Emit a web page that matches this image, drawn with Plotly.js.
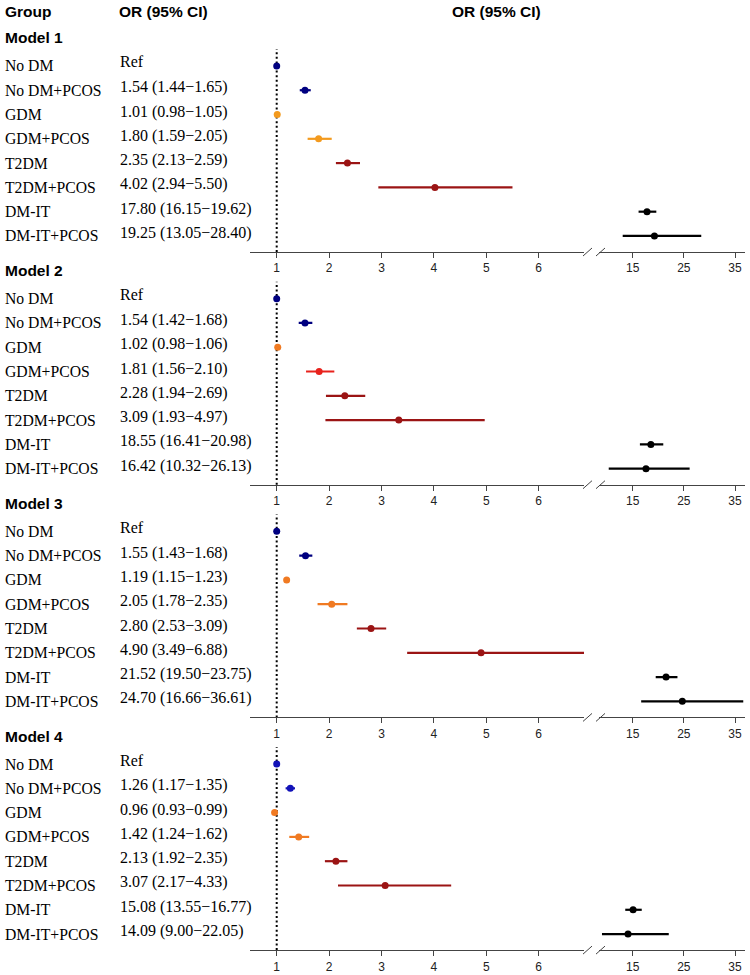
<!DOCTYPE html>
<html>
<head>
<meta charset="utf-8">
<script src="https://cdn.plot.ly/plotly-3.0.1.min.js"></script>
<style>html,body{margin:0;padding:0;background:#fff;}#chart{width:750px;height:975px;}</style>
</head>
<body>
<div id="chart"></div>
<script>
// ---------- data ----------
const groups = ["No DM","No DM+PCOS","GDM","GDM+PCOS","T2DM","T2DM+PCOS","DM-IT","DM-IT+PCOS"];
const models = ["Model 1","Model 2","Model 3","Model 4"];

const m1Or = [1, 1.54, 1.01, 1.80, 2.35, 4.02, 17.80, 19.25];
const m1Lo = [1, 1.44, 0.98, 1.59, 2.13, 2.94, 16.15, 13.05];
const m1Hi = [1, 1.65, 1.05, 2.05, 2.59, 5.50, 19.62, 28.40];
const m1Txt = ["Ref","1.54 (1.44−1.65)","1.01 (0.98−1.05)","1.80 (1.59−2.05)","2.35 (2.13−2.59)","4.02 (2.94−5.50)","17.80 (16.15−19.62)","19.25 (13.05−28.40)"];

const m2Or = [1, 1.54, 1.02, 1.81, 2.30, 3.33, 18.55, 17.60];
const m2Lo = [1, 1.42, 0.98, 1.56, 1.94, 1.93, 16.41, 10.32];
const m2Hi = [1, 1.68, 1.06, 2.10, 2.69, 4.97, 20.98, 26.13];
const m2Txt = ["Ref","1.54 (1.42−1.68)","1.02 (0.98−1.06)","1.81 (1.56−2.10)","2.28 (1.94−2.69)","3.09 (1.93−4.97)","18.55 (16.41−20.98)","16.42 (10.32−26.13)"];

const m3Or = [1, 1.55, 1.19, 2.05, 2.80, 4.90, 21.52, 24.70];
const m3Lo = [1, 1.43, 1.15, 1.78, 2.53, 3.49, 19.50, 16.66];
const m3Hi = [1, 1.68, 1.23, 2.35, 3.09, 6.88, 23.75, 36.61];
const m3Txt = ["Ref","1.55 (1.43−1.68)","1.19 (1.15−1.23)","2.05 (1.78−2.35)","2.80 (2.53−3.09)","4.90 (3.49−6.88)","21.52 (19.50−23.75)","24.70 (16.66−36.61)"];

const m4Or = [1, 1.26, 0.96, 1.42, 2.13, 3.07, 15.08, 14.09];
const m4Lo = [1, 1.17, 0.93, 1.24, 1.92, 2.17, 13.55, 9.00];
const m4Hi = [1, 1.35, 0.99, 1.62, 2.35, 4.33, 16.77, 22.05];
const m4Txt = ["Ref","1.26 (1.17−1.35)","0.96 (0.93−0.99)","1.42 (1.24−1.62)","2.13 (1.92−2.35)","3.07 (2.17−4.33)","15.08 (13.55−16.77)","14.09 (9.00−22.05)"];

const leftTicks = [1, 2, 3, 4, 5, 6];
const rightTicks = [15, 25, 35];

// ---------- styles ----------
const NAVY = "#000080", BLUE = "#1212B8", GOLD = "#F39A1E", ORNG = "#F07A22", RED = "#E8221C", DRED = "#9B1414", BLK = "#000000";
const colors = [
  [NAVY, NAVY, GOLD, GOLD, DRED, DRED, BLK, BLK],
  [NAVY, NAVY, ORNG, RED, DRED, DRED, BLK, BLK],
  [NAVY, NAVY, ORNG, ORNG, DRED, DRED, BLK, BLK],
  [BLUE, BLUE, ORNG, ORNG, DRED, DRED, BLK, BLK]
];
const modelData = [
  {or: m1Or, lo: m1Lo, hi: m1Hi, txt: m1Txt},
  {or: m2Or, lo: m2Lo, hi: m2Hi, txt: m2Txt},
  {or: m3Or, lo: m3Lo, hi: m3Hi, txt: m3Txt},
  {or: m4Or, lo: m4Lo, hi: m4Hi, txt: m4Txt}
];

const W = 750, H = 975;
const px = v => v / W;
const py = v => 1 - v / H;
const STEP = 232.7;          // vertical pitch between model blocks
const AXIS0 = 252, TOP0 = 49; // first block axis line & dotted top
const BREAK = 8;              // split between left and right panel values
const serif = "Liberation Serif, Times New Roman, serif";
const sans = "Liberation Sans, Arial, sans-serif";
const axCol = "#444444";

const traces = [];
const layout = {
  width: W, height: H,
  margin: {l: 0, r: 0, t: 0, b: 0},
  paper_bgcolor: "#fff", plot_bgcolor: "rgba(0,0,0,0)",
  showlegend: false,
  annotations: [], shapes: []
};

const nm = (p, i) => i === 1 ? p : p + i;

models.forEach((mname, k) => {
  const axisY = AXIS0 + STEP * k;
  const topY = TOP0 + STEP * k;
  const yi = k + 1, xl = 2 * k + 1, xr = 2 * k + 2;
  const yName = nm("y", yi);
  layout[nm("yaxis", yi)] = {
    domain: [py(axisY), py(topY)],
    range: [7.66, 7.66 - (axisY - topY) / 24.29],
    visible: false, showgrid: false, zeroline: false, fixedrange: true
  };
  const xBase = {
    anchor: yName, showgrid: false, zeroline: false, showline: true,
    linecolor: axCol, linewidth: 1, ticks: "outside", ticklen: 5, tickcolor: axCol, tickwidth: 1,
    tickfont: {family: sans, size: 12, color: "#222"}, fixedrange: true
  };
  layout[nm("xaxis", xl)] = Object.assign({}, xBase, {
    domain: [px(250), px(584)], range: [0.4905, 6.865], tickmode: "array", tickvals: leftTicks, ticktext: leftTicks.map(String)
  });
  layout[nm("xaxis", xr)] = Object.assign({}, xBase, {
    domain: [px(599), px(745)], range: [8.418, 36.95], tickmode: "array", tickvals: rightTicks, ticktext: rightTicks.map(String)
  });

  // dotted reference line at OR = 1
  layout.shapes.push({
    type: "line", xref: nm("x", xl), yref: yName + " domain",
    x0: 1, x1: 1, y0: 0, y1: 1,
    line: {color: "#000", width: 2, dash: "2px,2.6px"}, layer: "below"
  });
  // axis break slashes
  [[583, 592], [596, 605]].forEach(([a, b]) => {
    layout.shapes.push({
      type: "line", xref: "paper", yref: "paper",
      x0: px(a), x1: px(b), y0: py(axisY + 4), y1: py(axisY - 4),
      line: {color: axCol, width: 1}
    });
  });

  const d = modelData[k];
  groups.forEach((g, i) => {
    const est = d.or[i];
    const useRight = est > BREAK;
    traces.push({
      type: "scatter", mode: "markers",
      x: [est], y: [i],
      xaxis: nm("x", useRight ? xr : xl), yaxis: yName,
      marker: {color: colors[k][i], size: 7},
      error_x: {
        type: "data", symmetric: false,
        array: [d.hi[i] - est], arrayminus: [est - d.lo[i]],
        color: colors[k][i], thickness: 2.2, width: 0
      },
      hoverinfo: "skip", cliponaxis: true
    });
    // group label
    layout.annotations.push({
      xref: "paper", yref: yName, x: px(3), y: i, xanchor: "left", yanchor: "middle",
      text: g, showarrow: false, font: {family: serif, size: 15.7, color: "#000"}
    });
    // OR text
    layout.annotations.push({
      xref: "paper", yref: yName, x: px(118), y: i, xanchor: "left", yanchor: "middle",
      yshift: i === 0 ? 4 : 3,
      text: d.txt[i], showarrow: false, font: {family: serif, size: 16, color: "#000"}
    });
  });

  // model title
  layout.annotations.push({
    xref: "paper", yref: "paper", x: px(3), y: py(38 + STEP * k), xanchor: "left", yanchor: "middle",
    text: "<b>" + mname + "</b>", showarrow: false, font: {family: sans, size: 15.5, color: "#000"}
  });
});

// headers
layout.annotations.push(
  {xref: "paper", yref: "paper", x: px(3), y: py(11), xanchor: "left", yanchor: "middle",
   text: "<b>Group</b>", showarrow: false, font: {family: sans, size: 15.5, color: "#000"}},
  {xref: "paper", yref: "paper", x: px(117), y: py(11), xanchor: "left", yanchor: "middle",
   text: "<b>OR (95% CI)</b>", showarrow: false, font: {family: sans, size: 15.5, color: "#000"}},
  {xref: "paper", yref: "paper", x: px(497), y: py(11), xanchor: "center", yanchor: "middle",
   text: "<b>OR (95% CI)</b>", showarrow: false, font: {family: sans, size: 15.5, color: "#000"}}
);

Plotly.newPlot("chart", traces, layout, {displayModeBar: false, staticPlot: true});
</script>
</body>
</html>
